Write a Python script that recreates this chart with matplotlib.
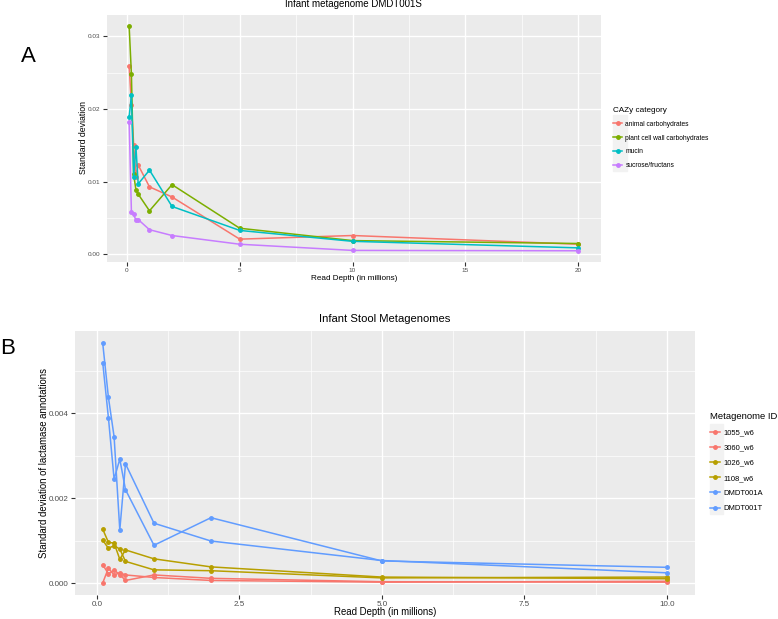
import matplotlib
matplotlib.use('Agg')
import matplotlib.pyplot as plt
from matplotlib.patches import Rectangle
from matplotlib.ticker import FixedLocator

plt.rcParams['font.family'] = ['Liberation Sans', 'DejaVu Sans']

W, H = 778, 619   # figure size in pixels

# ---- panel A data : std deviation per CAZy category vs read depth ----
depth_a = [0.1, 0.2, 0.3, 0.4, 0.5, 1, 2, 5, 10, 20]
cazy_names = ['animal carbohydrates', 'plant cell wall carbohydrates',
              'mucin', 'sucrose/fructans']
animal = [0.0259, 0.0206, 0.0151, 0.0107, 0.0123, 0.0093, 0.0079, 0.0021, 0.0026, 0.0014]
plant = [0.0314, 0.0248, 0.0110, 0.0089, 0.0083, 0.0060, 0.0096, 0.0036, 0.0019, 0.0015]
mucin = [0.0189, 0.0219, 0.0107, 0.0148, 0.0097, 0.0116, 0.0066, 0.0033, 0.0018, 0.0009]
sucrose = [0.0182, 0.0059, 0.0055, 0.0047, 0.0048, 0.0034, 0.0026, 0.0014, 0.00055, 0.0005]
cazy_colors = ['#F8766D', '#7CAE00', '#00BFC4', '#C77CFF']

# ---- panel B data : std deviation of lactamase annotations ----
depth_b = [0.1, 0.2, 0.3, 0.4, 0.5, 1, 2, 5, 10]
meta_ids = ['1055_w6', '3060_w6', '1026_w6', '1108_w6', 'DMDT001A', 'DMDT001T']
m1055 = [0.00043, 0.00022, 0.00030, 0.00020, 0.00006, 0.00019, 0.00011, 0.00003, 0.00002]
m3060 = [0.00000, 0.00035, 0.00019, 0.00024, 0.00019, 0.00013, 0.00006, 0.00002, 0.00004]
m1026 = [0.00127, 0.00096, 0.00094, 0.00056, 0.00078, 0.00057, 0.00038, 0.00014, 0.00010]
m1108 = [0.00101, 0.00082, 0.00088, 0.00080, 0.00051, 0.00031, 0.00029, 0.00012, 0.00014]
dmdt_a = [0.00566, 0.00438, 0.00345, 0.00125, 0.00281, 0.00141, 0.00099, 0.00053, 0.00024]
dmdt_t = [0.00520, 0.00390, 0.00245, 0.00292, 0.00220, 0.00089, 0.00154, 0.00052, 0.00037]
meta_colors = ['#F8766D', '#F8766D', '#B79F00', '#B79F00', '#619CFF', '#619CFF']


def fx(x):
    return x / W


def fy(y):
    return 1 - y / H


def box(l, t, r, b):
    # pixel box -> figure fraction rect
    return [fx(l), fy(b), (r - l) / W, (b - t) / H]


def gg_style(ax, tick_size):
    ax.set_facecolor('#EBEBEB')
    for s in ax.spines.values():
        s.set_visible(False)
    ax.grid(which='major', color='white', lw=1.0)
    ax.grid(which='minor', color='white', lw=0.5)
    ax.set_axisbelow(True)
    ax.tick_params(which='major', length=3, width=0.8, color='#333333',
                   labelcolor='#4D4D4D', labelsize=tick_size, pad=1.5)
    ax.tick_params(which='minor', length=0)


def gg_lim(vals, frac=0.05):
    lo, hi = min(vals), max(vals)
    pad = (hi - lo) * frac
    return lo - pad, hi + pad


fig = plt.figure(figsize=(W / 100, H / 100), dpi=100)

# ================= panel A =================
ax1 = fig.add_axes(box(106.7, 15, 600.7, 262))
gg_style(ax1, 4.6)
for name, vals, col in zip(cazy_names, [animal, plant, mucin, sucrose], cazy_colors):
    ax1.plot(depth_a, vals, color=col, lw=1.1, marker='o', ms=2.5, label=name)
ax1.set_xlim(*gg_lim(depth_a))
ax1.set_ylim(*gg_lim(animal + plant + mucin + sucrose))
ax1.xaxis.set_major_locator(FixedLocator([0, 5, 10, 15, 20]))
ax1.xaxis.set_minor_locator(FixedLocator([2.5, 7.5, 12.5, 17.5]))
ax1.yaxis.set_major_locator(FixedLocator([0, 0.01, 0.02, 0.03]))
ax1.yaxis.set_minor_locator(FixedLocator([0.005, 0.015, 0.025]))
ax1.set_xticklabels(['0', '5', '10', '15', '20'])
ax1.set_yticklabels(['0.00', '0.01', '0.02', '0.03'])

fig.text(fx(353.7), fy(4), 'Infant metagenome DMDT001S', fontsize=7,
         ha='center', va='center')
fig.text(fx(353.7), fy(278), 'Read Depth (in millions)', fontsize=5.9,
         ha='center', va='center')
fig.text(fx(83.5), fy(138), 'Standard deviation', fontsize=6.3,
         ha='center', va='center', rotation=90)
fig.text(fx(28), fy(57), 'A', fontsize=16, ha='center', va='center')

# grey key backgrounds, drawn behind the legends
fig.patches.append(Rectangle((fx(613), fy(171)), 14 / W, 56 / H,
                             transform=fig.transFigure, color='#F2F2F2', zorder=-5))
leg1 = ax1.legend(loc='upper left', bbox_to_anchor=(fx(613), fy(107)),
                  bbox_transform=fig.transFigure, frameon=False, borderpad=0,
                  fontsize=4.8, title='CAZy category', title_fontsize=5.9,
                  handlelength=1.35, handletextpad=0.5, labelspacing=1.02,
                  alignment='left', borderaxespad=0)

# ================= panel B =================
ax2 = fig.add_axes(box(74.5, 331, 695, 595))
gg_style(ax2, 5.8)
for name, vals, col in zip(meta_ids, [m1055, m3060, m1026, m1108, dmdt_a, dmdt_t], meta_colors):
    ax2.plot(depth_b, vals, color=col, lw=1.1, marker='o', ms=2.5, label=name)
ax2.set_xlim(*gg_lim(depth_b))
ax2.set_ylim(*gg_lim(m1055 + m3060 + m1026 + m1108 + dmdt_a + dmdt_t))
ax2.xaxis.set_major_locator(FixedLocator([0, 2.5, 5, 7.5, 10]))
ax2.xaxis.set_minor_locator(FixedLocator([1.25, 3.75, 6.25, 8.75]))
ax2.yaxis.set_major_locator(FixedLocator([0, 0.002, 0.004]))
ax2.yaxis.set_minor_locator(FixedLocator([0.001, 0.003, 0.005]))
ax2.set_xticklabels(['0.0', '2.5', '5.0', '7.5', '10.0'])
ax2.set_yticklabels(['0.000', '0.002', '0.004'])

fig.text(fx(385), fy(319.5), 'Infant Stool Metagenomes', fontsize=8.1,
         ha='center', va='center')
fig.text(fx(385), fy(612), 'Read Depth (in millions)', fontsize=6.9,
         ha='center', va='center')
fig.text(fx(44), fy(463), 'Standard deviation of lactamase annotations',
         fontsize=6.9, ha='center', va='center', rotation=90)
fig.text(fx(8), fy(348), 'B', fontsize=16, ha='center', va='center')

fig.patches.append(Rectangle((fx(710), fy(514)), 13 / W, 90 / H,
                             transform=fig.transFigure, color='#F2F2F2', zorder=-5))
leg2 = ax2.legend(loc='upper left', bbox_to_anchor=(fx(710), fy(412)),
                  bbox_transform=fig.transFigure, frameon=False, borderpad=0,
                  fontsize=5.5, title='Metagenome ID', title_fontsize=6.8,
                  handlelength=1.3, handletextpad=0.45, labelspacing=1.03,
                  alignment='left', borderaxespad=0)

fig.savefig('out.png', dpi=100)
